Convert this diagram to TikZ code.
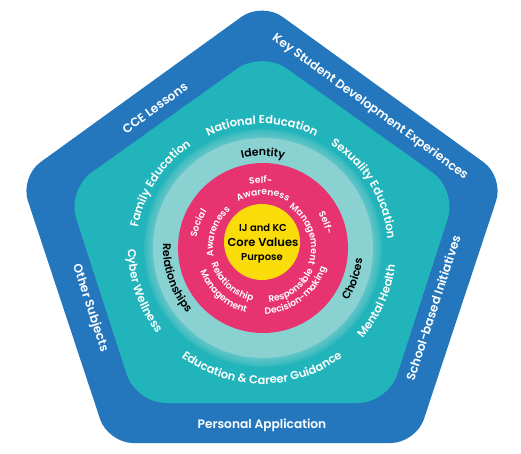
\documentclass[tikz,border=0pt]{standalone}
\usepackage{fontspec}
\setmainfont{Poppins}
\newfontfamily\medfont{Poppins SemiBold}
\usetikzlibrary{decorations.text}

\definecolor{bluering}{HTML}{2477BD}
\definecolor{tealring}{HTML}{21B4BA}
\definecolor{lightring}{HTML}{8AD2D2}
\definecolor{pinkring}{HTML}{E73470}
\definecolor{yellowcore}{HTML}{FADC0A}

\newcommand{\tealfont}{\medfont\fontsize{11.5}{14}\selectfont\color{white}}
\newcommand{\pinkfont}{\medfont\fontsize{9.2}{11}\selectfont\color{white}}
\newcommand{\darkfont}{\medfont\fontsize{11}{13}\selectfont\color{black}}

\begin{document}
\begin{tikzpicture}[x=1pt, y=1pt,
    ringtext/.style={decorate, decoration={text along path, text align=center, text={#1}}},
    edgelabel/.style={text=white, font=\medfont\fontsize{12.2}{14}\selectfont},
    corelabel/.style={text=black, font=\medfont\fontsize{#1}{12}\selectfont}]
    \useasboundingbox (-262,-203) rectangle (259,250);

    % Outer pentagon
    \fill[bluering, rounded corners=25pt] (0,248) -- (242,73) -- (154,-193) -- (-154,-193) -- (-242,73) -- cycle;
    % Inner pentagon
    \fill[tealring, rounded corners=30pt] (0,199) -- (195,60) -- (126,-153) -- (-126,-153) -- (-195,60) -- cycle;

    % Rings (soft edge on the light one)
    \foreach \r in {119,117,...,111}
        \fill[lightring, opacity=0.18] (1,2) circle (\r);
    \fill[lightring] (1,2) circle (110);
    \fill[pinkring] (1,2) circle (85);
    \fill[yellowcore] (0,8) circle (38);

    % Outer labels
    \node[edgelabel, rotate=36] (cce) at (-107,142) {CCE Lessons};
    \node[edgelabel, rotate=-36] (ksde) at (108,143) {Key Student Development Experiences};
    \node[edgelabel, rotate=-72] (other) at (-172,-58) {Other Subjects};
    \node[edgelabel, rotate=72] (school) at (171,-58) {School-based Initiatives};
    \node[edgelabel] (personal) at (0,-175) {Personal Application};

    % Inner pentagon labels
    \path[ringtext={|\tealfont|National Education}] (160:126) arc[start angle=160, end angle=20, radius=126];
    \path[ringtext={|\tealfont|Family Education}] (217:126) arc[start angle=217, end angle=77, radius=126];
    \path[ringtext={|\tealfont|Sexuality Education}] (101:126) arc[start angle=101, end angle=-39, radius=126];
    \path[ringtext={|\tealfont|Cyber Wellness}] (129:134) arc[start angle=129, end angle=269, radius=134];
    \path[ringtext={|\tealfont|Mental Health}] (266:134) arc[start angle=266, end angle=406, radius=134];
    \path[ringtext={|\tealfont|Education {\&} Career Guidance}] (200:134) arc[start angle=200, end angle=340, radius=134];

    \begin{scope}[shift={(1,2)}]
        % Light ring labels
        \path[ringtext={|\darkfont|Identity}] (160:92) arc[start angle=160, end angle=20, radius=92];
        \path[ringtext={|\darkfont|Relationships}] (129:100) arc[start angle=129, end angle=269, radius=100];
        \path[ringtext={|\darkfont|Choices}] (271:100) arc[start angle=271, end angle=411, radius=100];

        % Pink ring labels
        \path[ringtext={|\pinkfont|Self-}] (162:65) arc[start angle=162, end angle=22, radius=65];
        \path[ringtext={|\pinkfont|Awareness}] (160:53) arc[start angle=160, end angle=20, radius=53];
        \path[ringtext={|\pinkfont|Social}] (229:67) arc[start angle=229, end angle=89, radius=67];
        \path[ringtext={|\pinkfont|Awareness}] (230:50) arc[start angle=230, end angle=90, radius=50];
        \path[ringtext={|\pinkfont|Self-}] (92:65) arc[start angle=92, end angle=-48, radius=65];
        \path[ringtext={|\pinkfont|Management}] (89:48) arc[start angle=89, end angle=-51, radius=48];
        \path[ringtext={|\pinkfont|Relationship}] (158:54) arc[start angle=158, end angle=298, radius=54];
        \path[ringtext={|\pinkfont|Management}] (158:67) arc[start angle=158, end angle=298, radius=67];
        \path[ringtext={|\pinkfont|Responsible}] (236:55) arc[start angle=236, end angle=376, radius=55];
        \path[ringtext={|\pinkfont|Decision-making}] (237:66) arc[start angle=237, end angle=377, radius=66];
    \end{scope}

    % Core
    \node[corelabel=10] (ijkc) at (1,22) {IJ and KC};
    \node[corelabel=11.5] (values) at (1,8) {Core Values};
    \node[corelabel=10] (purpose) at (0,-8) {Purpose};
\end{tikzpicture}
\end{document}
